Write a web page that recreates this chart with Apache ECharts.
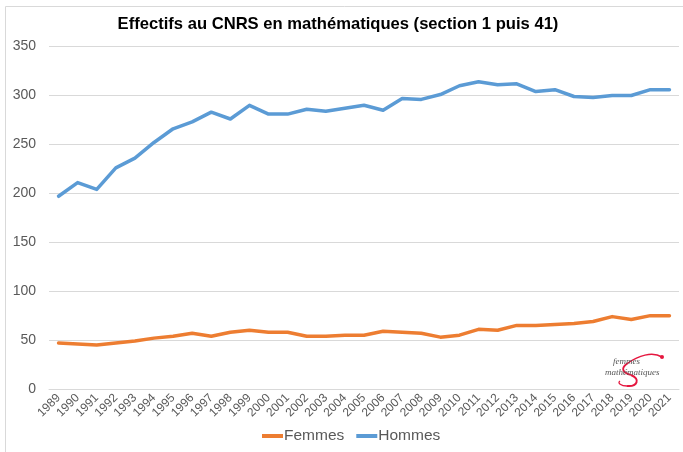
<!DOCTYPE html>
<html>
<head>
<meta charset="utf-8">
<script src="https://cdn.jsdelivr.net/npm/echarts@6/dist/echarts.min.js"></script>
<style>
  html, body { margin: 0; padding: 0; background: #fff; }
  #chart { width: 683px; height: 452px; }
</style>
</head>
<body>
<div id="chart"></div>
<script>
// années
var years = ['1989','1990','1991','1992','1993','1994','1995','1996','1997','1998','1999',
  '2000','2001','2002','2003','2004','2005','2006','2007','2008','2009','2010',
  '2011','2012','2013','2014','2015','2016','2017','2018','2019','2020','2021'];
// effectifs
var femmes = [47, 46, 45, 47, 49, 52, 54, 57, 54, 58, 60,
  58, 58, 54, 54, 55, 55, 59, 58, 57, 53, 55,
  61, 60, 65, 65, 66, 67, 69, 74, 71, 75, 75];
var hommes = [197, 211, 204, 226, 236, 252, 266, 273, 283, 276, 290,
  281, 281, 286, 284, 287, 290, 285, 297, 296, 301, 310,
  314, 311, 312, 304, 306, 299, 298, 300, 300, 306, 306];
var yTicks = { min: 0, max: 350, step: 50 };

var font = 'Liberation Sans, Arial, sans-serif';
var red = '#e5173f';
var chart = echarts.init(document.getElementById('chart'));
chart.setOption({
  animation: false,
  title: {
    text: 'Effectifs au CNRS en mathématiques (section 1 puis 41)',
    left: 333, textAlign: 'center', top: 11,
    textStyle: { fontFamily: font, fontSize: 16.6, fontWeight: 'bold', color: '#000' }
  },
  legend: {
    bottom: 3, left: 257, itemWidth: 21, itemHeight: 4, itemGap: 12,
    icon: 'rect',
    textStyle: { fontFamily: font, fontSize: 15.5, color: '#595959', padding: [0, 0, 0, -4] },
    data: ['Femmes', 'Hommes']
  },
  grid: { left: 49, right: 4, top: 46.6, bottom: 63 },
  xAxis: {
    type: 'category', data: years, boundaryGap: true,
    axisLine: { lineStyle: { color: '#d9d9d9' } },
    axisTick: { show: false },
    axisLabel: { rotate: 45, interval: 0, margin: 7, fontFamily: font, fontSize: 12, color: '#595959' }
  },
  yAxis: {
    type: 'value', min: yTicks.min, max: yTicks.max, interval: yTicks.step,
    axisLine: { show: false }, axisTick: { show: false },
    splitLine: { lineStyle: { color: '#d9d9d9' } },
    axisLabel: { margin: 13, fontFamily: font, fontSize: 14, color: '#595959' }
  },
  series: [
    { name: 'Femmes', type: 'line', data: femmes, symbol: 'none',
      lineStyle: { width: 3.5, color: '#ED7D31', cap: 'round', join: 'round' }, itemStyle: { color: '#ED7D31' } },
    { name: 'Hommes', type: 'line', data: hommes, symbol: 'none',
      lineStyle: { width: 3.5, color: '#5B9BD5', cap: 'round', join: 'round' }, itemStyle: { color: '#5B9BD5' } }
  ],
  graphic: [
    { type: 'rect', silent: true, z: -1,
      shape: { x: 5.5, y: 6.5, width: 700, height: 500 },
      style: { fill: 'none', stroke: '#d9d9d9', lineWidth: 1 } },
    // logo femmes & mathématiques
    { type: 'bezierCurve', silent: true,
      shape: { x1: 662, y1: 357, cpx1: 652, cpy1: 351, cpx2: 638, cpy2: 356, x2: 628, y2: 363 },
      style: { fill: 'none', stroke: red, lineWidth: 1.5 } },
    { type: 'bezierCurve', silent: true,
      shape: { x1: 628, y1: 363, cpx1: 619, cpy1: 369, cpx2: 624, cpy2: 373, x2: 631, y2: 375 },
      style: { fill: 'none', stroke: red, lineWidth: 1.8 } },
    { type: 'bezierCurve', silent: true,
      shape: { x1: 631, y1: 375, cpx1: 641, cpy1: 379, cpx2: 637, cpy2: 387, x2: 627, y2: 386 },
      style: { fill: 'none', stroke: red, lineWidth: 2 } },
    { type: 'bezierCurve', silent: true,
      shape: { x1: 627, y1: 386, cpx1: 621, cpy1: 386, cpx2: 617, cpy2: 383, x2: 620, y2: 381 },
      style: { fill: 'none', stroke: red, lineWidth: 1.3 } },
    { type: 'circle', silent: true, shape: { cx: 662, cy: 357, r: 2 }, style: { fill: red } },
    { type: 'text', silent: true, left: 613, top: 357,
      style: { text: 'femmes', font: 'italic 9px Liberation Serif, serif', fill: '#555' } },
    { type: 'text', silent: true, left: 605, top: 368,
      style: { text: 'mathématiques', font: 'italic 9px Liberation Serif, serif', fill: '#555' } }
  ]
});
</script>
</body>
</html>
